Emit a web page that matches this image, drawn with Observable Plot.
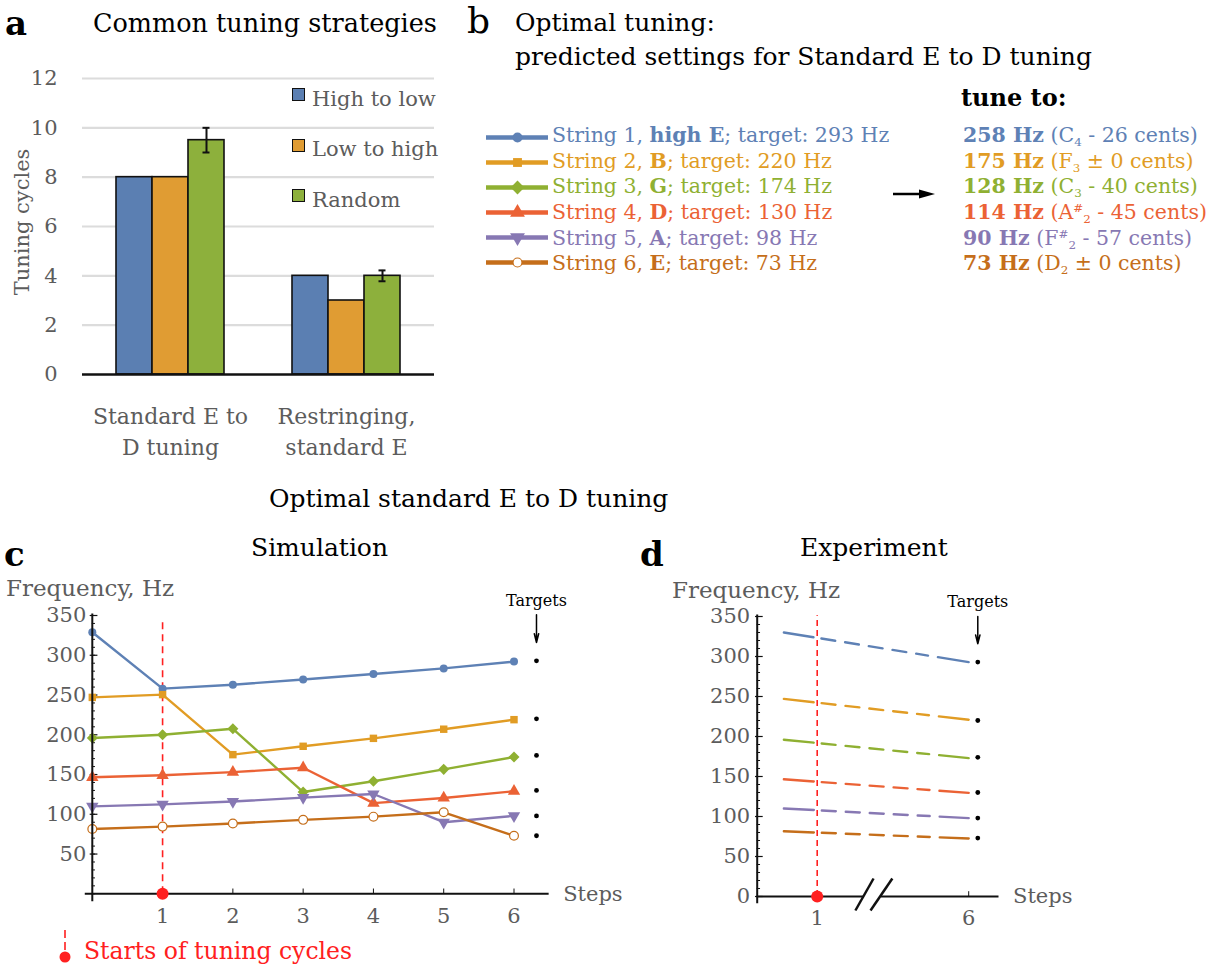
<!DOCTYPE html>
<html><head><meta charset="utf-8">
<script src="https://cdn.jsdelivr.net/npm/d3@7"></script>
<script src="https://cdn.jsdelivr.net/npm/@observablehq/plot@0.6"></script>
<style>
body{margin:0;background:#fff;}
#fig{position:relative;width:1215px;height:970px;font-family:"DejaVu Serif",serif;overflow:hidden;background:#fff;}
.t{position:absolute;white-space:nowrap;line-height:1;}
sub{font-size:0.58em;vertical-align:-0.36em;line-height:0;}
sup{font-size:0.58em;vertical-align:0.55em;line-height:0;}
</style></head><body><div id="fig"></div>
<script>
// ---------- data: panel a ----------
const groups = ["Standard E to\nD tuning", "Restringing,\nstandard E"];
const strategies = ["High to low", "Low to high", "Random"];
const cyclesStandardEtoD = [8, 8, 9.5];
const cyclesRestringing = [4, 3, 4];
const randomError = [0.5, 0.22];
const strategyColors = ["#5b7fb2", "#e09c33", "#8db03c"];
const cycleTicks = [0, 2, 4, 6, 8, 10, 12];

// ---------- data: strings ----------
const stringNames = ["String 1", "String 2", "String 3", "String 4", "String 5", "String 6"];
const noteNames = ["high E", "B", "G", "D", "A", "E"];
const targetHz = [293, 220, 174, 130, 98, 73];
const tuneHz = [258, 175, 128, 114, 90, 73];
const tuneNote = ["C", "F", "C", "A<sup>#</sup>", "F<sup>#</sup>", "D"];
const tuneOctave = [4, 3, 3, 2, 2, 2];
const tuneCents = ["- 26", "± 0", "- 40", "- 45", "- 57", "± 0"];
const stringColors = ["#5e81b5", "#e19c24", "#8fb032", "#eb6235", "#8778b3", "#c56e1a"];

// ---------- data: panel c (simulation, steps 0..6) ----------
const steps = [0, 1, 2, 3, 4, 5, 6];
const simString1 = [329, 258, 263, 269.5, 276.5, 283.5, 292];
const simString2 = [247, 250.5, 175, 185.5, 195.5, 207, 219];
const simString3 = [196, 200, 207.5, 128, 141.5, 156.5, 172];
const simString4 = [146.5, 149, 153, 158.5, 114, 120.5, 129];
const simString5 = [110, 112.5, 116, 121, 125.5, 90, 98];
const simString6 = [81.5, 84.5, 88.5, 93, 97, 102.5, 73];
const simSeries = [simString1, simString2, simString3, simString4, simString5, simString6];
const freqTicks = [50, 100, 150, 200, 250, 300, 350];
const freqTicksD = [0, 50, 100, 150, 200, 250, 300, 350];
const stepTicksC = [1, 2, 3, 4, 5, 6];

// ---------- data: panel d (experiment) ----------
const expStart = [330, 247, 196, 146.5, 110, 81.5];
const expEnd = [293, 221, 173, 129.5, 98, 72.5];
const expSteps = [0, 6];
const stepTicksD = [1, 6];
const cycleStarts = [1];

const red = "#ff2020";
const gray = "#5c5c5c";
const fig = document.getElementById("fig");
const FONT = "'DejaVu Serif', serif";

function addText(html, x, y, size, o = {}) {
  const d = document.createElement("div");
  d.className = "t";
  d.innerHTML = html;
  d.style.fontSize = size + "px";
  d.style.left = x + "px";
  d.style.top = (y - 0.48 * size) + "px";
  if (o.weight) d.style.fontWeight = o.weight;
  d.style.color = o.color || "#000";
  if (o.anchor === "middle") d.style.transform = "translateX(-50%)";
  fig.appendChild(d);
  return d;
}
function place(el, left, top) {
  el.style.position = "absolute";
  el.style.left = left + "px";
  el.style.top = top + "px";
  fig.appendChild(el);
}
const baseStyle = {background: "transparent", overflow: "visible", fontFamily: FONT, maxWidth: "none"};

// ================= Panel a =================
const barRows = [];
strategies.forEach((s, j) => {
  barRows.push({group: groups[0], series: s, value: cyclesStandardEtoD[j]});
  barRows.push({group: groups[1], series: s, value: cyclesRestringing[j]});
});
const errRows = groups.map((g, i) => {
  const v = (i === 0 ? cyclesStandardEtoD : cyclesRestringing)[2];
  return {group: g, series: "Random", lo: v - randomError[i], hi: v + randomError[i]};
});
const aDims = {width: 460, height: 470, marginTop: 78, marginBottom: 96, marginLeft: 82, marginRight: 26};

place(Plot.plot({
  ...aDims, style: baseStyle,
  y: {domain: [0, 12], axis: null},
  marks: [
    Plot.ruleY(cycleTicks.filter(d => d > 0), {stroke: "#dcdcdc", strokeWidth: 2.2}),
    Plot.text(cycleTicks, {y: d => d, text: d => String(d), frameAnchor: "left", dx: -25, textAnchor: "end", fontSize: 21, fill: gray})
  ]
}), 0, 0);

place(Plot.plot({
  ...aDims, style: baseStyle,
  fx: {domain: groups, paddingInner: 0.375, paddingOuter: 0.1875, axis: null, label: null},
  x: {domain: strategies, padding: 0, axis: null},
  y: {domain: [0, 12], axis: null},
  color: {domain: strategies, range: strategyColors},
  marks: [
    Plot.barY(barRows, {fx: "group", x: "series", y: "value", fill: "series", stroke: "#111", strokeWidth: 1.6}),
    Plot.ruleX(errRows, {fx: "group", x: "series", y1: "lo", y2: "hi", stroke: "#111", strokeWidth: 2}),
    Plot.tickY(errRows, {fx: "group", x: "series", y: "lo", stroke: "#111", strokeWidth: 2, insetLeft: 14.5, insetRight: 14.5}),
    Plot.tickY(errRows, {fx: "group", x: "series", y: "hi", stroke: "#111", strokeWidth: 2, insetLeft: 14.5, insetRight: 14.5}),
    Plot.text(groups, {fx: d => d, text: d => d, frameAnchor: "bottom", lineAnchor: "top", dy: 28, lineHeight: 1.4, fontSize: 22, fill: gray})
  ]
}), 0, 0);

// baseline on top
place(Plot.plot({
  ...aDims, style: baseStyle,
  y: {domain: [0, 12], axis: null},
  marks: [Plot.ruleY([0], {stroke: "#111", strokeWidth: 2.6})]
}), 0, 0);

addText("a", 5, 22, 34, {weight: "bold"});
addText("Common tuning strategies", 93, 23, 25.5);
{
  const d = addText("Tuning cycles", 0, 0, 21, {color: gray});
  d.style.left = "22px"; d.style.top = "222px";
  d.style.transform = "translate(-50%,-50%) rotate(-90deg)";
}
strategies.forEach((s, j) => {
  const sq = document.createElement("div");
  sq.style.cssText = `position:absolute;left:292px;top:${88 + j * 50.5}px;width:11px;height:11px;border:1.5px solid #111;background:${strategyColors[j]};`;
  fig.appendChild(sq);
  addText(s, 312, 99 + j * 50.5, 21, {color: gray});
});

// ================= Panel b =================
addText("b", 467, 20, 36);
addText("Optimal tuning:", 515, 22, 25);
addText("predicted settings for Standard E to D tuning", 515, 56, 25);
addText("tune to:", 961, 98, 24, {weight: "bold"});

const rowY0 = 135, rowStep = 25.65;
place(Plot.plot({
  width: 62, height: 154, marginTop: 13, marginBottom: 13, marginLeft: 0, marginRight: 0,
  style: baseStyle,
  x: {domain: [0, 1], axis: null},
  y: {type: "point", domain: stringNames, padding: 0, axis: null},
  marks: [
    ...stringNames.map((n, i) => Plot.ruleY([n], {y: d => d, stroke: stringColors[i], strokeWidth: 4.5})),
    ...stringNames.map((n, i) => Plot.dot([n], {
      x: () => 0.5, y: d => d,
      symbol: ["circle", "square", "square", "triangle", "triangle", "circle"][i],
      rotate: [0, 0, 45, 0, 180, 0][i],
      r: [5, 5, 5.5, 5.5, 5.5, 4.5][i],
      fill: i === 5 ? "white" : stringColors[i],
      stroke: i === 5 ? stringColors[i] : "none", strokeWidth: 1.2
    }))
  ]
}), 486, 122);

stringNames.forEach((n, i) => {
  const y = rowY0 + i * rowStep;
  addText(`${n}, <b>${noteNames[i]}</b>; target: ${targetHz[i]} Hz`, 552, y, 20.5, {color: stringColors[i]});
  addText(`<b>${tuneHz[i]} Hz</b> (${tuneNote[i]}<sub>${tuneOctave[i]}</sub> ${tuneCents[i]} cents)`, 963, y, 20.5, {color: stringColors[i]});
});
{
  const s = document.createElementNS("http://www.w3.org/2000/svg", "svg");
  s.setAttribute("width", 44); s.setAttribute("height", 14);
  s.innerHTML = '<line x1="0" y1="7" x2="30" y2="7" stroke="#000" stroke-width="2.5"/><polygon points="26,2.5 42,7 26,11.5" fill="#000"/>';
  place(s, 893, 187);
}

// ================= Panel c =================
addText("Optimal standard E to D tuning", 269, 498, 25);
addText("c", 4, 553, 34, {weight: "bold"});
addText("Simulation", 251, 547, 25);
addText("Frequency, Hz", 6, 588, 23, {color: gray});

const simRows = [];
simSeries.forEach((vals, i) => steps.forEach(s => simRows.push({string: stringNames[i], step: s, hz: vals[s]})));
const markerSpec = [
  {symbol: "circle", rotate: 0, r: 4},
  {symbol: "square", rotate: 0, r: 4.2},
  {symbol: "square", rotate: 45, r: 4.4},
  {symbol: "triangle", rotate: 0, r: 4.6},
  {symbol: "triangle", rotate: 180, r: 4.6},
  {symbol: "circle", rotate: 0, r: 4.4}
];
const minorC = d3.range(0, 351, 10);

place(Plot.plot({
  width: 640, height: 380, style: baseStyle,
  x: {domain: [0, 6], range: [91.8, 513.5], axis: null},
  y: {domain: [0, 350], range: [333.3, 55], axis: null},
  color: {domain: stringNames, range: stringColors},
  marks: [
    Plot.ruleY(minorC, {y: d => d, x1: 0, x2: 0.045, stroke: "#111", strokeWidth: 1}),
    Plot.ruleY(freqTicks, {y: d => d, x1: -0.03, x2: 0.08, stroke: "#111", strokeWidth: 1.2}),
    Plot.ruleX(stepTicksC, {x: d => d, y1: 0, y2: 6, stroke: "#111", strokeWidth: 1}),
    Plot.text(freqTicks, {x: 0, y: d => d, dx: -6, textAnchor: "end", fontSize: 21, fill: gray}),
    Plot.text(stepTicksC, {x: d => d, y: 0, dy: 22, fontSize: 21, fill: gray}),
    Plot.text(["Steps"], {x: 6.5, y: 0, dx: 14, textAnchor: "start", fontSize: 21, fill: gray}),
    Plot.ruleX(cycleStarts, {x: d => d, y1: 0, y2: 346, stroke: red, strokeWidth: 1.6, strokeDasharray: "7,5"}),
    Plot.line(simRows, {x: "step", y: "hz", z: "string", stroke: "string", strokeWidth: 2.4}),
    ...stringNames.map((n, i) => Plot.dot(simRows.filter(r => r.string === n), {
      x: "step", y: "hz", symbol: markerSpec[i].symbol, rotate: markerSpec[i].rotate, r: markerSpec[i].r,
      fill: i === 5 ? "white" : stringColors[i], stroke: i === 5 ? stringColors[i] : "none", strokeWidth: 1.2
    })),
    Plot.ruleY([0], {x1: -0.1, x2: 6.5, stroke: "#111", strokeWidth: 2}),
    Plot.ruleX([0], {y1: -10, y2: 352, stroke: "#111", strokeWidth: 2}),
    Plot.dot(cycleStarts, {x: d => d, y: 0, r: 6, fill: red}),
    Plot.dot(targetHz, {x: 6.32, y: d => d, r: 2.4, fill: "#000"}),
    Plot.text(["Targets"], {x: 6.32, y: 368, fontSize: 16, fill: "#000"}),
    Plot.arrow([0], {x1: 6.32, x2: 6.32, y1: 351, y2: 316, stroke: "#000", strokeWidth: 1.5, headLength: 9, headAngle: 28})
  ]
}), 0, 560);

// legend under c
{
  const s = document.createElementNS("http://www.w3.org/2000/svg", "svg");
  s.setAttribute("width", 16); s.setAttribute("height", 40);
  s.innerHTML = `<line x1="8" y1="2" x2="8" y2="26" stroke="${red}" stroke-width="1.6" stroke-dasharray="8,4"/><circle cx="8" cy="29" r="5.5" fill="${red}"/>`;
  place(s, 57, 928);
  addText("Starts of tuning cycles", 84, 951, 23.5, {color: red});
}

// ================= Panel d =================
addText("d", 640, 553, 34, {weight: "bold"});
addText("Experiment", 800, 547, 25);
addText("Frequency, Hz", 672, 590, 23, {color: gray});

const expRows = [];
stringNames.forEach((n, i) => {
  expRows.push({string: n, step: expSteps[0], hz: expStart[i]});
  expRows.push({string: n, step: expSteps[1], hz: expEnd[i]});
});
const breakMarks = [
  {x1: 2.26, y1: -17.5, x2: 2.86, y2: 22.5},
  {x1: 2.76, y1: -17.5, x2: 3.48, y2: 22.5}
];
const minorD = d3.range(0, 351, 10);

place(Plot.plot({
  width: 420, height: 380, style: baseStyle,
  x: {type: "linear", domain: [-0.8, 1, 7], range: [116.7, 176.7, 358.5], axis: null},
  y: {domain: [0, 350], range: [336, 56], axis: null},
  color: {domain: stringNames, range: stringColors},
  marks: [
    Plot.ruleY(minorD, {y: d => d, x1: -0.8, x2: -0.7, stroke: "#111", strokeWidth: 1}),
    Plot.ruleY(freqTicksD, {y: d => d, x1: -0.85, x2: -0.62, stroke: "#111", strokeWidth: 1.2}),
    Plot.ruleX(stepTicksD, {x: d => d, y1: 0, y2: 6, stroke: "#111", strokeWidth: 1}),
    Plot.text(freqTicksD, {x: -0.8, y: d => d, dx: -7, textAnchor: "end", fontSize: 21, fill: gray}),
    Plot.text(stepTicksD, {x: d => d, y: 0, dy: 22, fontSize: 21, fill: gray}),
    Plot.text(["Steps"], {x: 7, y: 0, dx: 14, textAnchor: "start", fontSize: 21, fill: gray}),
    Plot.ruleX(cycleStarts, {x: d => d, y1: 0, y2: 351, stroke: red, strokeWidth: 1.6, strokeDasharray: "6,4"}),
    Plot.line(expRows, {x: "step", y: "hz", z: "string", stroke: "string", strokeWidth: 2.4,
      strokeDasharray: "30,8,14,10,14,10,14,10,14,10,12,10,40"}),
    Plot.ruleY([0], {x1: -0.8, x2: 2.56, stroke: "#111", strokeWidth: 2}),
    Plot.ruleY([0], {x1: 3.12, x2: 7, stroke: "#111", strokeWidth: 2}),
    Plot.link(breakMarks, {x1: "x1", y1: "y1", x2: "x2", y2: "y2", stroke: "#111", strokeWidth: 2.5}),
    Plot.ruleX([-0.8], {y1: -9, y2: 352, stroke: "#111", strokeWidth: 2}),
    Plot.dot(cycleStarts, {x: d => d, y: 0, r: 6, fill: red}),
    Plot.dot(targetHz, {x: 6.3, y: d => d, r: 2.4, fill: "#000"}),
    Plot.text(["Targets"], {x: 6.3, y: 368, fontSize: 16, fill: "#000"}),
    Plot.arrow([0], {x1: 6.3, x2: 6.3, y1: 350, y2: 316, stroke: "#000", strokeWidth: 1.5, headLength: 9, headAngle: 28})
  ]
}), 640, 560);
</script></body></html>
